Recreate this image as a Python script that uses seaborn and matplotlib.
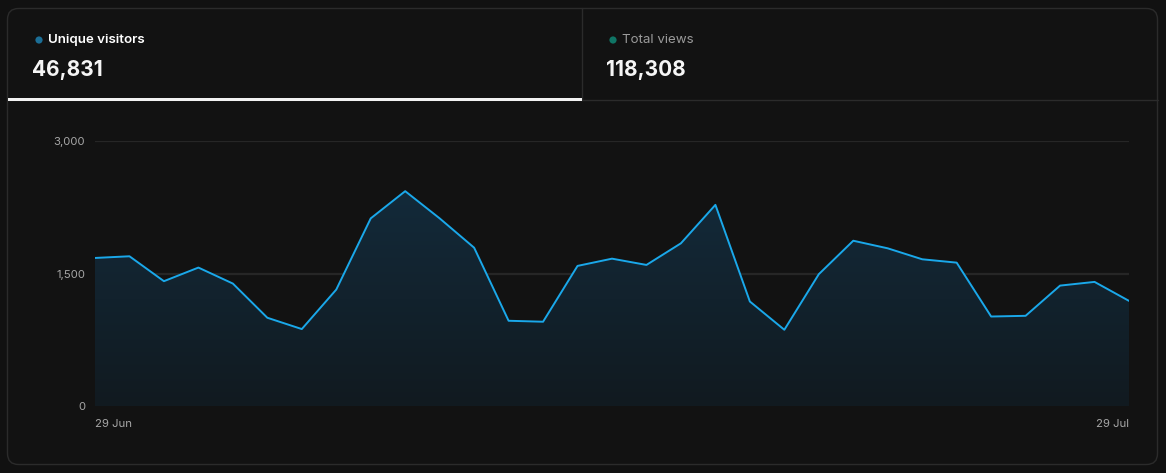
import numpy as np
import pandas as pd
import matplotlib
matplotlib.use("Agg")
import matplotlib.pyplot as plt
import seaborn as sns
from matplotlib.patches import FancyBboxPatch, Rectangle, Circle
from matplotlib.colors import LinearSegmentedColormap

# data
dates = pd.date_range("2024-06-29", "2024-07-29", freq="D")
visitors = [1676, 1695, 1413, 1567, 1386, 999, 871, 1318, 2124, 2432,
            2124, 1792, 965, 954, 1586, 1668, 1597, 1842, 2277, 1183,
            863, 1492, 1871, 1785, 1661, 1623, 1013, 1021, 1363, 1405, 1190]
tab_labels = ["Unique visitors", "Total views"]
tab_values = ["46,831", "118,308"]
tab_colors = ["#1b6e96", "#0f7565"]
y_ticks = [0, 1500, 3000]
x_labels = ["29 Jun", "29 Jul"]

df = pd.DataFrame({"date": dates, "visitors": visitors})

sns.set_style("dark")
plt.rcParams["font.family"] = ["Inter", "DejaVu Sans"]

W, H = 1166, 473
fig = plt.figure(figsize=(W / 100, H / 100), dpi=100)
fig.patch.set_facecolor("#111111")

# background / card in pixel coords
bg = fig.add_axes([0, 0, 1, 1])
bg.set_xlim(0, W)
bg.set_ylim(H, 0)
bg.axis("off")
card = FancyBboxPatch((7.5, 8.5), 1150, 456, boxstyle="round,pad=0,rounding_size=11",
                      facecolor="#121212", edgecolor="#2b2b2b", linewidth=1)
bg.add_patch(card)
bg.plot([7.5, 1157.5], [100.5, 100.5], color="#2b2b2b", lw=1)
bg.plot([581.5, 581.5], [8.5, 100.5], color="#2b2b2b", lw=1)
bg.add_patch(Rectangle((7.5, 98), 574, 3, facecolor="#f2f2f2", edgecolor="none", zorder=3))

for i, (lab, val, c) in enumerate(zip(tab_labels, tab_values, tab_colors)):
    x0 = 32 + i * 574
    bg.add_patch(Circle((x0 + 7, 40), 3.6, facecolor=c, edgecolor="none"))
    bg.text(x0 + 16, 40, lab, color="#ffffff" if i == 0 else "#9a9a9a",
            fontsize=9.6, fontweight="semibold" if i == 0 else "normal", va="center", ha="left")
    bg.text(x0, 70, val, color="#f5f5f5", fontsize=15, fontweight="bold", va="center", ha="left")

# chart area
ax = fig.add_axes([95 / W, (H - 406) / H, 1034 / W, 265 / H])
ax.set_facecolor("none")

sns.lineplot(data=df, x="date", y="visitors", ax=ax, color="#1aa8ea", lw=1.4, zorder=4)

# gradient area under the line
fill = ax.fill_between(df["date"], df["visitors"], 0, facecolor="none", edgecolor="none")
cmap = LinearSegmentedColormap.from_list("g", ["#111a20", "#132a3a"])
xs = matplotlib.dates.date2num(df["date"])
grad = np.linspace(0, 1, 256).reshape(-1, 1)
im = ax.imshow(grad, aspect="auto", cmap=cmap, origin="lower",
               extent=[xs[0], xs[-1], 0, max(visitors)], zorder=2)
im.set_clip_path(fill.get_paths()[0], transform=ax.transData)

ax.set_xlim(dates[0], dates[-1])
ax.set_ylim(0, 3000)
ax.set_yticks(y_ticks)
ax.set_yticklabels([f"{v:,}" for v in y_ticks])
ax.set_xticks([dates[0], dates[-1]])
ax.set_xticklabels(x_labels)
xl = ax.get_xticklabels()
xl[0].set_ha("left")
xl[1].set_ha("right")
ax.tick_params(axis="both", length=0, colors="#a6a6a6", labelsize=8.2)
ax.tick_params(axis="y", pad=7)
ax.tick_params(axis="x", pad=9)
ax.grid(axis="y", color="#262626", lw=1.6)
ax.grid(axis="x", visible=False)
ax.set_xlabel("")
ax.set_ylabel("")
for s in ax.spines.values():
    s.set_visible(False)

fig.savefig("out.png", dpi=100, facecolor=fig.get_facecolor())
